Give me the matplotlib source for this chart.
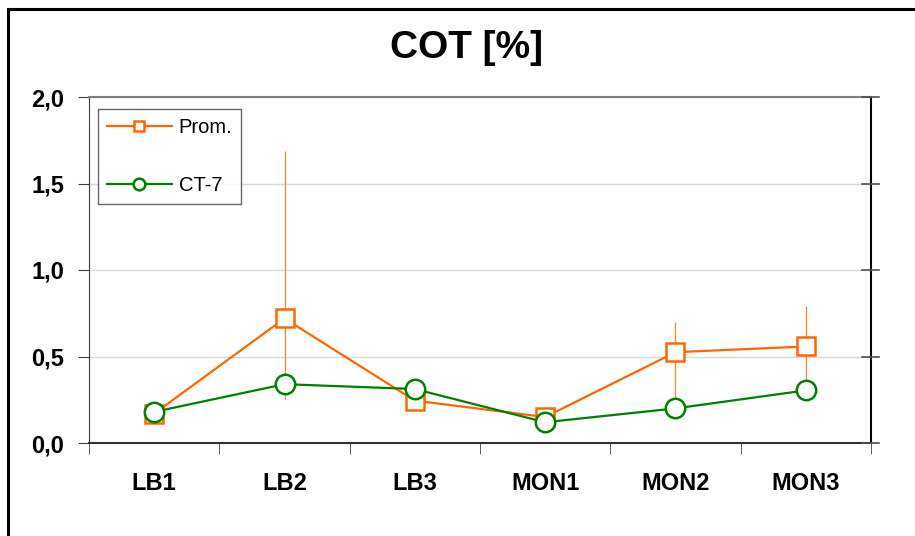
import numpy as np
import matplotlib.pyplot as plt
from matplotlib.patches import Rectangle

plt.rcParams['font.family'] = ['Liberation Sans', 'DejaVu Sans']

categories = ["LB1", "LB2", "LB3", "MON1", "MON2", "MON3"]
prom = [0.17, 0.72, 0.245, 0.15, 0.525, 0.558]
ct7 = [0.18, 0.34, 0.312, 0.12, 0.20, 0.304]
# error bar ends (lower, upper)
prom_low = [0.17, 0.255, 0.245, 0.15, 0.20, 0.30]
prom_high = [0.17, 1.685, 0.245, 0.15, 0.70, 0.79]

orange = "#FF6600"
green = "#008000"

fig = plt.figure(figsize=(9.15, 5.36), dpi=100)
W, H = 915, 536
ax = fig.add_axes([89 / W, 1 - 443 / H, (871 - 89) / W, (443 - 97) / H])

x = np.arange(len(categories))
yerr = [np.array(prom) - np.array(prom_low), np.array(prom_high) - np.array(prom)]

ax.errorbar(x, prom, yerr=yerr, fmt="none", ecolor="#FF8533", elinewidth=0.9,
            capsize=0, zorder=2)
ax.plot(x, prom, color=orange, lw=1.6, marker="s", ms=13, mfc="white",
        mec=orange, mew=1.8, label="Prom.", zorder=3)
ax.plot(x, ct7, color=green, lw=1.6, marker="o", ms=14, mfc="white",
        mec=green, mew=1.8, label="CT-7", zorder=4)

yticks = np.arange(0, 2.01, 0.5)
ax.set_xlim(-0.5, len(categories) - 0.5)
ax.set_ylim(0, 2.0)
ax.set_yticks(yticks)
ax.set_yticklabels([f"{v:.1f}".replace(".", ",") for v in yticks],
                   fontsize=17, fontweight="bold")
ax.set_xticks(x)
ax.set_xticklabels(categories, fontsize=17, fontweight="bold")
ax.set_xticks(np.arange(-0.5, len(categories)), minor=True)
ax.tick_params(axis="x", which="major", length=0, pad=21)
ax.tick_params(axis="x", which="minor", length=8, direction="out", color="#404040")
ax.tick_params(axis="y", which="major", length=8, direction="out", color="#404040",
               pad=10)
ax.yaxis.grid(True, color="#D9D9D9", lw=1)
ax.set_axisbelow(True)

ax.spines["left"].set_color("#404040")
ax.spines["bottom"].set_color("#303030")
ax.spines["bottom"].set_linewidth(1.5)
ax.spines["right"].set_color("black")
ax.spines["right"].set_linewidth(1.5)
ax.spines["top"].set_color("#808080")
ax.spines["top"].set_linewidth(1.5)

# right-side ticks crossing the spine
for yv in yticks:
    ax.plot([1.0 - 9 / 782, 1.0 + 8 / 782], [yv, yv], transform=ax.get_yaxis_transform(),
            color="#505050", lw=1.2, clip_on=False, zorder=5)

leg = ax.legend(loc="upper left", bbox_to_anchor=(9 / 782, 1 - 12 / 346),
                fontsize=14.5, frameon=True, fancybox=False, edgecolor="#404040",
                labelspacing=1.95, handlelength=3.2, borderpad=0.45, markerscale=0.6,
                handletextpad=0.35, borderaxespad=0)
leg.get_frame().set_linewidth(1.0)

fig.text(466 / W, 1 - 48 / H, "COT [%]", ha="center", va="center",
         fontsize=28, fontweight="bold")

# outer chart border (only left and top edges visible)
fig.patches.append(Rectangle((8 / W, -0.1), 1.2, 1 - 9 / H + 0.1,
                             transform=fig.transFigure, fill=False,
                             edgecolor="black", lw=2.2))

fig.savefig("out.png", dpi=100)
